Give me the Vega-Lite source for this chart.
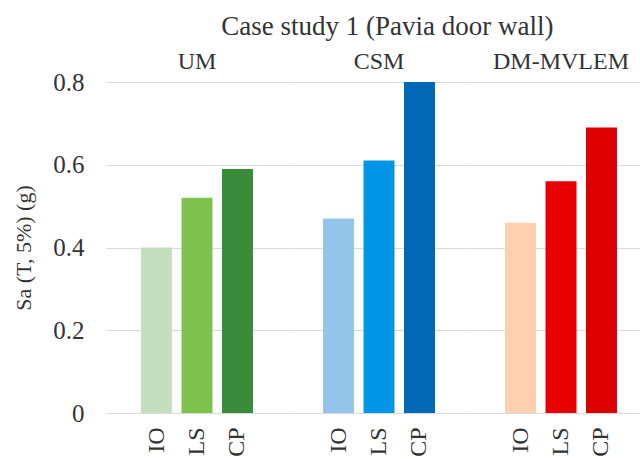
{
  "$schema": "https://vega.github.io/schema/vega-lite/v6.json",
  "padding": {"left": 12, "top": 13, "right": 0, "bottom": 0},
  "background": "white",
  "title": {"text": "Case study 1 (Pavia door wall)", "fontSize": 27, "fontWeight": "normal", "color": "#333333", "anchor": "middle", "offset": 9, "dx": 55},
  "data": {"values": [
    {"model": "UM", "state": "IO", "sa": 0.40},
    {"model": "UM", "state": "LS", "sa": 0.52},
    {"model": "UM", "state": "CP", "sa": 0.59},
    {"model": "CSM", "state": "IO", "sa": 0.47},
    {"model": "CSM", "state": "LS", "sa": 0.61},
    {"model": "CSM", "state": "CP", "sa": 0.80},
    {"model": "DM-MVLEM", "state": "IO", "sa": 0.46},
    {"model": "DM-MVLEM", "state": "LS", "sa": 0.56},
    {"model": "DM-MVLEM", "state": "CP", "sa": 0.69}
  ]},
  "transform": [{"calculate": "datum.model + ' ' + datum.state", "as": "key"}],
  "facet": {
    "column": {
      "field": "model",
      "type": "nominal",
      "sort": ["UM", "CSM", "DM-MVLEM"],
      "header": {"title": null, "labelFontSize": 24, "labelColor": "#333333", "labelPadding": 8}
    }
  },
  "spacing": 0,
  "spec": {
    "width": 182,
    "height": 331,
    "mark": {"type": "bar"},
    "encoding": {
      "x": {
        "field": "state", "type": "nominal", "sort": ["IO", "LS", "CP"],
        "scale": {"paddingInner": 0.235, "paddingOuter": 0.865},
        "axis": {"title": null, "labelAngle": -90, "ticks": false, "domain": false, "grid": false, "labelFontSize": 24, "labelColor": "#333333", "labelPadding": 14}
      },
      "y": {
        "field": "sa", "type": "quantitative",
        "scale": {"domain": [0, 0.8], "nice": false},
        "axis": {"values": [0, 0.2, 0.4, 0.6, 0.8], "format": ".1~f", "title": "Sa (T, 5%) (g)", "titleFontSize": 22, "titleFontWeight": "normal", "titleColor": "#333333", "titlePadding": 17, "labelFontSize": 25, "labelColor": "#333333", "labelPadding": 22, "ticks": false, "domain": false, "gridColor": "#d9d9d9", "gridWidth": 1.2}
      },
      "color": {
        "field": "key", "type": "nominal", "legend": null,
        "scale": {
          "domain": ["UM IO", "UM LS", "UM CP", "CSM IO", "CSM LS", "CSM CP", "DM-MVLEM IO", "DM-MVLEM LS", "DM-MVLEM CP"],
          "range": ["#c4dfbd", "#7dc24f", "#3a8c3a", "#93c5ea", "#0095e6", "#0068b5", "#fed0b0", "#e80000", "#dc0000"]
        }
      }
    }
  },
  "config": {
    "font": "Times New Roman, Liberation Serif, DejaVu Serif, serif",
    "view": {"stroke": null},
    "axis": {"labelFont": "Times New Roman, Liberation Serif, DejaVu Serif, serif", "titleFont": "Times New Roman, Liberation Serif, DejaVu Serif, serif"},
    "header": {"labelFont": "Times New Roman, Liberation Serif, DejaVu Serif, serif"},
    "title": {"font": "Times New Roman, Liberation Serif, DejaVu Serif, serif"}
  }
}
